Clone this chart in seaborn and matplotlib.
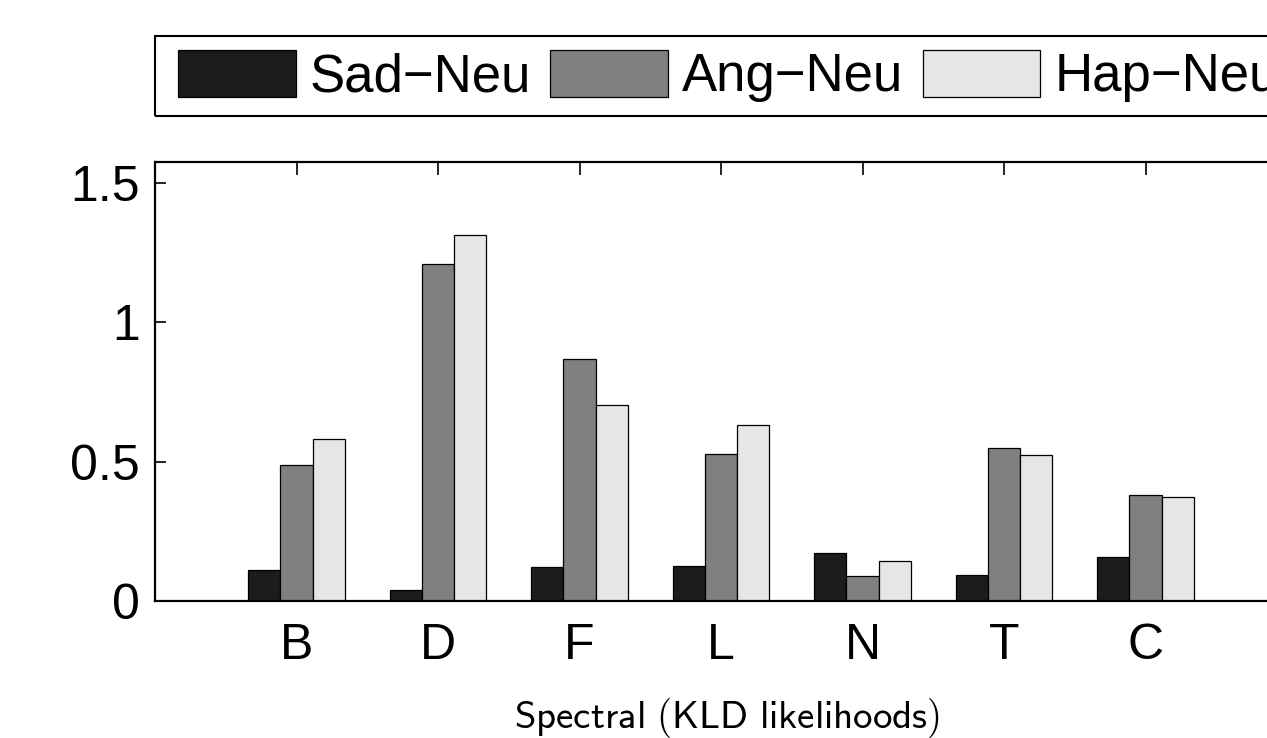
import matplotlib
matplotlib.use("Agg")
import matplotlib.pyplot as plt
from matplotlib.patches import Rectangle
import seaborn as sns
import pandas as pd

categories = ["B", "D", "F", "L", "N", "T", "C"]
series_names = ["Sad\u2212Neu", "Ang\u2212Neu", "Hap\u2212Neu"]
sad_neu = [0.111, 0.039, 0.122, 0.125, 0.172, 0.093, 0.158]
ang_neu = [0.487, 1.208, 0.867, 0.527, 0.090, 0.548, 0.380]
hap_neu = [0.581, 1.312, 0.703, 0.631, 0.143, 0.523, 0.373]
colors = ["#1c1c1c", "#808080", "#e6e6e6"]
yticks = [0, 0.5, 1, 1.5]
ytick_labels = ["0", "0.5", "1", "1.5"]
xlabel = r"$\mathsf{Spectral\ (KLD\ likelihoods)}$"

rows = []
for name, vals in zip(series_names, [sad_neu, ang_neu, hap_neu]):
    for c, v in zip(categories, vals):
        rows.append({"cat": c, "series": name, "value": v})
df = pd.DataFrame(rows)

sns.set_style("white")
plt.rcParams["font.family"] = ["Liberation Sans", "DejaVu Sans"]
plt.rcParams["mathtext.fontset"] = "cm"
plt.rcParams["text.color"] = "black"

W, H = 1267, 738
fig = plt.figure(figsize=(W / 100, H / 100), dpi=100)
ax_left = 155 / W
ax_bottom = 1 - 601 / H
ax_w = (8 * 141.5) / W
ax_h = (601 - 162) / H
ax = fig.add_axes([ax_left, ax_bottom, ax_w, ax_h])

sns.barplot(data=df, x="cat", y="value", hue="series", order=categories,
            hue_order=series_names, palette=colors, width=0.68, gap=0,
            edgecolor="black", linewidth=0.9, saturation=1, ax=ax)

ax.set_xlim(-1, 7)
ax.set_ylim(0, (601 - 162) / 279)
ax.set_yticks(yticks)
ax.set_yticklabels(ytick_labels)
ax.set_xticks(range(len(categories)))
ax.set_xticklabels(categories)
ax.tick_params(axis="both", labelsize=36, direction="in", width=1.2,
               colors="black", labelcolor="black")
ax.tick_params(axis="y", length=8, pad=11, left=True, right=False)
ax.tick_params(axis="x", length=9, pad=16, bottom=False, top=True,
               labeltop=False, labelbottom=True)
for s in ax.spines.values():
    s.set_linewidth(1.6)
    s.set_color("black")
ax.set_ylabel("")
ax.set_xlabel("")
fig.text(727 / W, 1 - 718 / H, xlabel, fontsize=28, ha="center", va="center",
         color="black")

handles, labels = ax.get_legend_handles_labels()
ax.get_legend().remove()
# legend frame (extends beyond the right edge like the reference)
fig.patches.append(Rectangle((155 / W, 1 - 116 / H), 1300 / W, 80 / H,
                             transform=fig.transFigure, fill=False,
                             edgecolor="black", linewidth=1.5))
leg = fig.legend(handles, labels, loc="center left",
                 bbox_to_anchor=(178 / W, 1 - 76 / H), bbox_transform=fig.transFigure,
                 ncol=3, fontsize=38, frameon=False,
                 handlelength=2.23, handleheight=1.0, handletextpad=0.27,
                 columnspacing=0.36, borderpad=0, borderaxespad=0)
for t in leg.get_texts():
    t.set_color("black")

fig.savefig("out.png", dpi=100)
